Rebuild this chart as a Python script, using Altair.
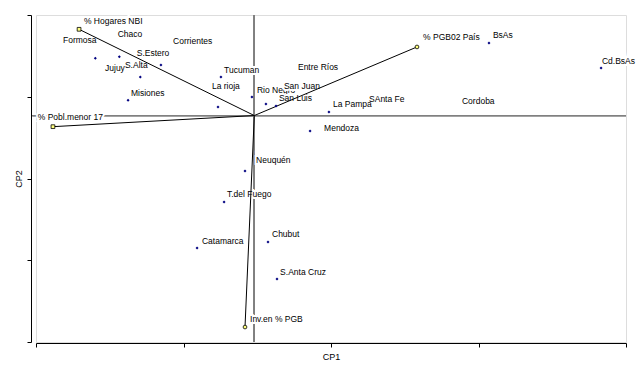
import altair as alt
import pandas as pd

# --- Provinces (observations): point coordinates and label positions (CP units) ---
prov_names = ["Formosa", "Chaco", "Corrientes", "S.Estero", "Jujuy", "S.Alta", "Misiones",
              "Tucuman", "La rioja", "Rio Negro", "San Juan", "San Luis", "Entre Ríos",
              "La Pampa", "SAnta Fe", "Cordoba", "Mendoza", "BsAs", "Cd.BsAs", "Neuquén",
              "T.del Fuego", "Chubut", "Catamarca", "S.Anta Cruz"]
prov_x = [-0.915, None, None, -0.633, -1.078, -0.773, -0.856,
          -0.226, -0.246, -0.016, 0.079, 0.147, None,
          0.506, None, None, 0.378, 1.591, 2.351, -0.063,
          -0.205, 0.093, -0.388, 0.154]
prov_y = [0.720, None, None, 0.618, 0.700, 0.472, 0.187,
          0.472, 0.105, 0.227, 0.141, 0.117, None,
          0.043, None, None, -0.189, 0.887, 0.582, -0.678,
          -1.058, -1.547, -1.620, -1.999]
prov_label_x = [-1.297, -0.926, -0.551, -0.797, -1.012, -0.877, -0.836,
                -0.205, -0.287, 0.018, 0.201, 0.167, 0.296,
                0.533, 0.778, 1.408, 0.473, 1.618, 2.357, 0.012,
                -0.185, 0.120, -0.355, 0.175]
prov_label_y = [0.928, 0.998, 0.912, 0.761, 0.578, 0.618, 0.276,
                0.557, 0.361, 0.313, 0.361, 0.215, 0.594,
                0.141, 0.202, 0.178, -0.152, 0.985, 0.667, -0.544,
                -0.960, -1.449, -1.535, -1.914]

# --- Variables (vectors) ---
var_names = ["% Hogares NBI", "% Pobl.menor 17", "% PGB02 País", "Inv.en % PGB"]
var_x = [-1.188, -1.365, 1.103, -0.063]
var_y = [1.055, -0.136, 0.839, -2.587]
var_label_x = [-1.155, -1.468, 1.144, -0.029]
var_label_y = [1.157, -0.014, 0.961, -2.488]
var_shape = ["square", "square", "circle", "circle"]

# axis extents / ticks (CP units)
x_ticks = [-1.48, -0.48, 0.52, 1.52, 2.52]
y_ticks = [-2.77, -1.77, -0.77, 0.23, 1.23]

prov = pd.DataFrame({"name": prov_names, "x": prov_x, "y": prov_y,
                     "lx": prov_label_x, "ly": prov_label_y})
var = pd.DataFrame({"name": var_names, "x": var_x, "y": var_y,
                    "lx": var_label_x, "ly": var_label_y, "shape": var_shape,
                    "x0": [0.0] * 4, "y0": [0.0] * 4})

labels = pd.concat([prov[["name", "lx", "ly"]], var[["name", "lx", "ly"]]], ignore_index=True)
labels_first = labels[labels["name"] == "Rio Negro"]
labels_rest = labels[labels["name"] != "Rio Negro"]

FONT = "Liberation Sans"
FS = 8.5

xs = alt.Scale(domain=[x_ticks[0], x_ticks[-1]], nice=False, zero=False)
ys = alt.Scale(domain=[y_ticks[0], y_ticks[-1]], nice=False, zero=False)

x_axis = alt.Axis(values=x_ticks, labels=False, grid=False, title="CP1", tickSize=4,
                  domainColor="black", tickColor="black", offset=1, titlePadding=5,
                  titleFont=FONT, titleFontSize=9, titleFontWeight="normal", titleColor="black")
y_axis = alt.Axis(values=y_ticks, labels=False, grid=False, title="CP2", tickSize=4,
                  domainColor="black", tickColor="black", offset=5, titlePadding=3,
                  titleFont=FONT, titleFontSize=9, titleFontWeight="normal", titleColor="black")

base_axes = alt.Chart(prov).mark_point(opacity=0).encode(
    x=alt.X("x:Q", scale=xs, axis=x_axis),
    y=alt.Y("y:Q", scale=ys, axis=y_axis),
)

hline = alt.Chart(prov).mark_rule(color="#808080", strokeWidth=1).encode(
    x=alt.datum(-1.505, scale=xs), x2=alt.datum(x_ticks[-1]), y=alt.datum(0, scale=ys))
vline = alt.Chart(prov).mark_rule(color="#808080", strokeWidth=1).encode(
    x=alt.datum(0, scale=xs), y=alt.datum(y_ticks[0], scale=ys), y2=alt.datum(y_ticks[-1]))


def text_layers(df):
    halo = alt.Chart(df).mark_text(align="left", baseline="middle", font=FONT, fontSize=FS,
                                   stroke="white", strokeWidth=4, fill="white").encode(
        x=alt.X("lx:Q", scale=xs), y=alt.Y("ly:Q", scale=ys), text="name:N")
    txt = alt.Chart(df).mark_text(align="left", baseline="middle", font=FONT, fontSize=FS,
                                  color="black").encode(
        x=alt.X("lx:Q", scale=xs), y=alt.Y("ly:Q", scale=ys), text="name:N")
    return [halo, txt]


vectors = alt.Chart(var).mark_rule(color="black", strokeWidth=1).encode(
    x=alt.X("x0:Q", scale=xs), y=alt.Y("y0:Q", scale=ys),
    x2="x:Q", y2="y:Q")

ends = alt.Chart(var).mark_point(filled=True, fill="#ffff80", stroke="black",
                                 strokeWidth=0.8, size=14, opacity=1).encode(
    x=alt.X("x:Q", scale=xs), y=alt.Y("y:Q", scale=ys),
    shape=alt.Shape("shape:N", scale=alt.Scale(domain=["square", "circle"],
                                              range=["square", "circle"]), legend=None))

points = alt.Chart(prov).mark_point(shape="diamond", filled=True, color="#000080",
                                    size=9, opacity=1).encode(
    x=alt.X("x:Q", scale=xs), y=alt.Y("y:Q", scale=ys))

chart = alt.layer(
    base_axes, hline, vline,
    *text_layers(labels_first), *text_layers(labels_rest),
    vectors, ends, points,
).properties(
    width=590, height=327,
    autosize=alt.AutoSizeParams(type="none"),
    padding={"left": 28, "top": 7, "right": 10, "bottom": 20},
).configure_view(stroke=None).configure(background="white")

chart.save("out.html", embed_options={"renderer": "svg", "actions": False})
